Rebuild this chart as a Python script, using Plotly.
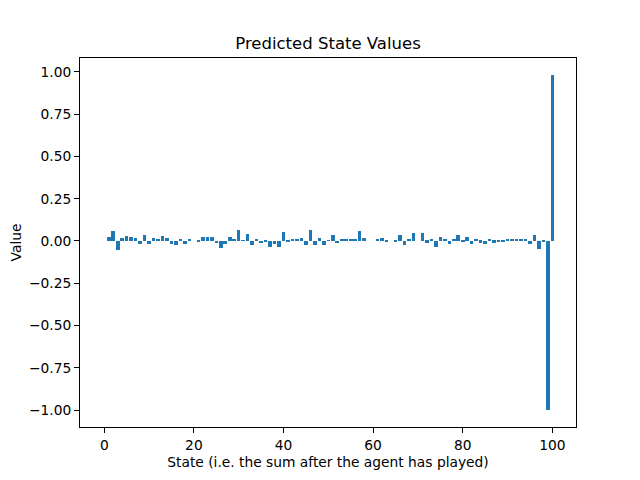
import plotly.graph_objects as go

# predicted value of each state (sum 0..100)
states = list(range(101))
values = [
    0.0, 0.024, 0.059, -0.051, 0.018, 0.028, 0.026, 0.018, -0.016, 0.036,
    -0.016, 0.018, 0.012, 0.030, 0.018, -0.018, -0.024, 0.012, -0.016, 0.012,
    0.0, -0.004, 0.024, 0.024, 0.024, -0.012, -0.041, -0.016, 0.024, 0.012,
    0.065, 0.004, 0.041, -0.024, 0.006, -0.012, -0.006, -0.035, -0.018, -0.035,
    0.053, -0.006, 0.006, 0.012, 0.018, -0.024, 0.065, -0.024, 0.018, -0.024,
    0.004, 0.035, -0.012, 0.012, 0.006, 0.012, 0.006, 0.059, 0.018, 0.0,
    0.0, 0.012, 0.018, -0.006, 0.0, -0.006, 0.035, -0.024, 0.006, 0.047,
    0.0, 0.047, -0.010, 0.006, -0.033, 0.024, 0.006, -0.016, 0.006, 0.035,
    -0.006, 0.024, -0.020, 0.012, -0.010, -0.016, 0.012, -0.010, -0.006, -0.006,
    0.006, 0.012, 0.012, 0.012, 0.012, -0.016, 0.035, -0.047, -0.002, -1.0,
    0.982,
]
x_ticks = [0, 20, 40, 60, 80, 100]
y_ticks = [-1.0, -0.75, -0.5, -0.25, 0.0, 0.25, 0.5, 0.75, 1.0]

fig = go.Figure(go.Bar(x=states, y=values, width=0.8,
                       marker=dict(color="#1f77b4", line=dict(width=0))))

axis_style = dict(showline=True, linecolor="black", linewidth=1, mirror=True,
                  ticks="outside", ticklen=5, tickcolor="black", tickwidth=1,
                  showgrid=False, zeroline=False, automargin=False,
                  tickfont=dict(size=13.8, color="black"))

# page body has an 8px margin, so everything is shifted up/left by 8
fig.update_layout(
    width=640, height=480,
    plot_bgcolor="white", paper_bgcolor="white",
    font=dict(family="DejaVu Sans", color="black", size=13.8),
    margin=dict(l=72, r=72, t=50, b=61, autoexpand=False),
    title=dict(text="Predicted State Values", x=0.5, xanchor="center",
               xref="paper", y=1 - 35 / 480, yref="container", yanchor="middle",
               font=dict(size=16.5, color="black")),
    showlegend=False,
    bargap=0,
)
fig.update_xaxes(range=[-5.42, 105.28], tickvals=x_ticks,
                 title=dict(text="State (i.e. the sum after the agent has played)",
                            standoff=5, font=dict(size=13.8)),
                 **axis_style)
fig.update_yaxes(range=[-1.099, 1.081], tickvals=y_ticks, tickformat=".2f",
                 title=dict(text="Value", standoff=7, font=dict(size=13.8)),
                 **axis_style)

fig.write_html("out.html")
